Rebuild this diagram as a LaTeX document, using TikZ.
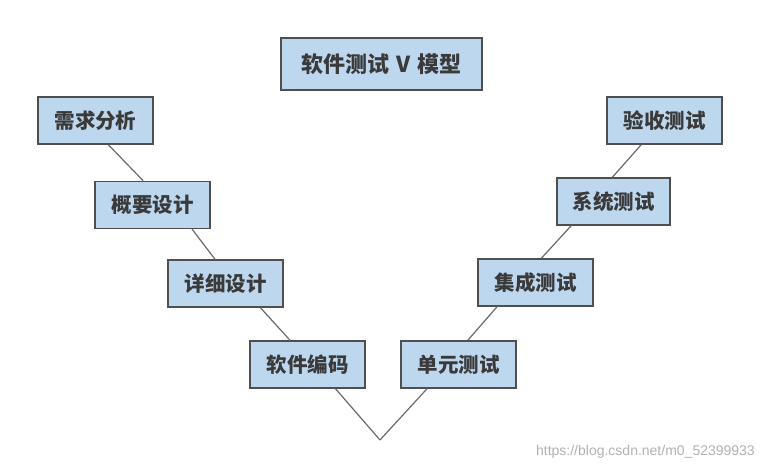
\documentclass[tikz,border=0pt]{standalone}
\usepackage{fontspec}
\newfontfamily\cjk{Noto Sans CJK SC}
\newfontfamily\wmfont{Liberation Sans}
\usetikzlibrary{calc}
\definecolor{boxfill}{HTML}{BDD7EE}
\definecolor{boxline}{HTML}{4F4F4F}
\definecolor{txt}{HTML}{3A3A3A}
\definecolor{conn}{HTML}{6A6A6A}
\tikzset{
  vbox/.style={draw=boxline, line width=1.4pt, fill=boxfill, minimum width=115pt, minimum height=47pt, inner sep=0pt, text=txt, font=\cjk\bfseries\fontsize{20.5pt}{20.5pt}\selectfont},
  tbox/.style={vbox, minimum width=201pt, minimum height=52pt, font=\cjk\bfseries\fontsize{22pt}{22pt}\selectfont},
  conline/.style={draw=conn, line width=1.2pt}
}
\begin{document}
\begin{tikzpicture}[x=1pt,y=-1pt]
\useasboundingbox (0,0) rectangle (764,470);
\fill[white] (0,0) rectangle (764,470);
\node[tbox] (title) at (381.5,64) {软件测试\hspace{7pt}V\hspace{7pt}模型};
\node[vbox] (a1) at (95.5,120.5) {需求分析};
\node[vbox] (a2) at (152.5,205) {概要设计};
\node[vbox] (a3) at (225.5,283.5) {详细设计};
\node[vbox] (a4) at (307.5,364.5) {软件编码};
\node[vbox] (b1) at (458.5,364.5) {单元测试};
\node[vbox] (b2) at (535.5,282.5) {集成测试};
\node[vbox, minimum width=113pt] (b3) at (613.5,201.5) {系统测试};
\node[vbox] (b4) at (664.5,120.5) {验收测试};
\coordinate (vtx) at (380,440);
\draw[conline] ($(a1.south west)!0.61!(a1.south east)$) -- ($(a2.north west)!0.42!(a2.north east)$);
\draw[conline] ($(a2.south west)!0.84!(a2.south east)$) -- ($(a3.north west)!0.41!(a3.north east)$);
\draw[conline] ($(a3.south west)!0.80!(a3.south east)$) -- ($(a4.north west)!0.35!(a4.north east)$);
\draw[conline] ($(a4.south west)!0.74!(a4.south east)$) -- (vtx);
\draw[conline] ($(b1.south west)!0.23!(b1.south east)$) -- (vtx);
\draw[conline] ($(b1.north west)!0.58!(b1.north east)$) -- ($(b2.south west)!0.17!(b2.south east)$);
\draw[conline] ($(b2.north west)!0.55!(b2.north east)$) -- ($(b3.south west)!0.13!(b3.south east)$);
\draw[conline] ($(b3.north west)!0.49!(b3.north east)$) -- ($(b4.south west)!0.30!(b4.south east)$);
\node[anchor=east, text=black!30, font=\wmfont\fontsize{14pt}{14pt}\selectfont, inner sep=0pt] (wm) at (755,452) {https://blog.csdn.net/m0\_52399933};
\end{tikzpicture}
\end{document}
